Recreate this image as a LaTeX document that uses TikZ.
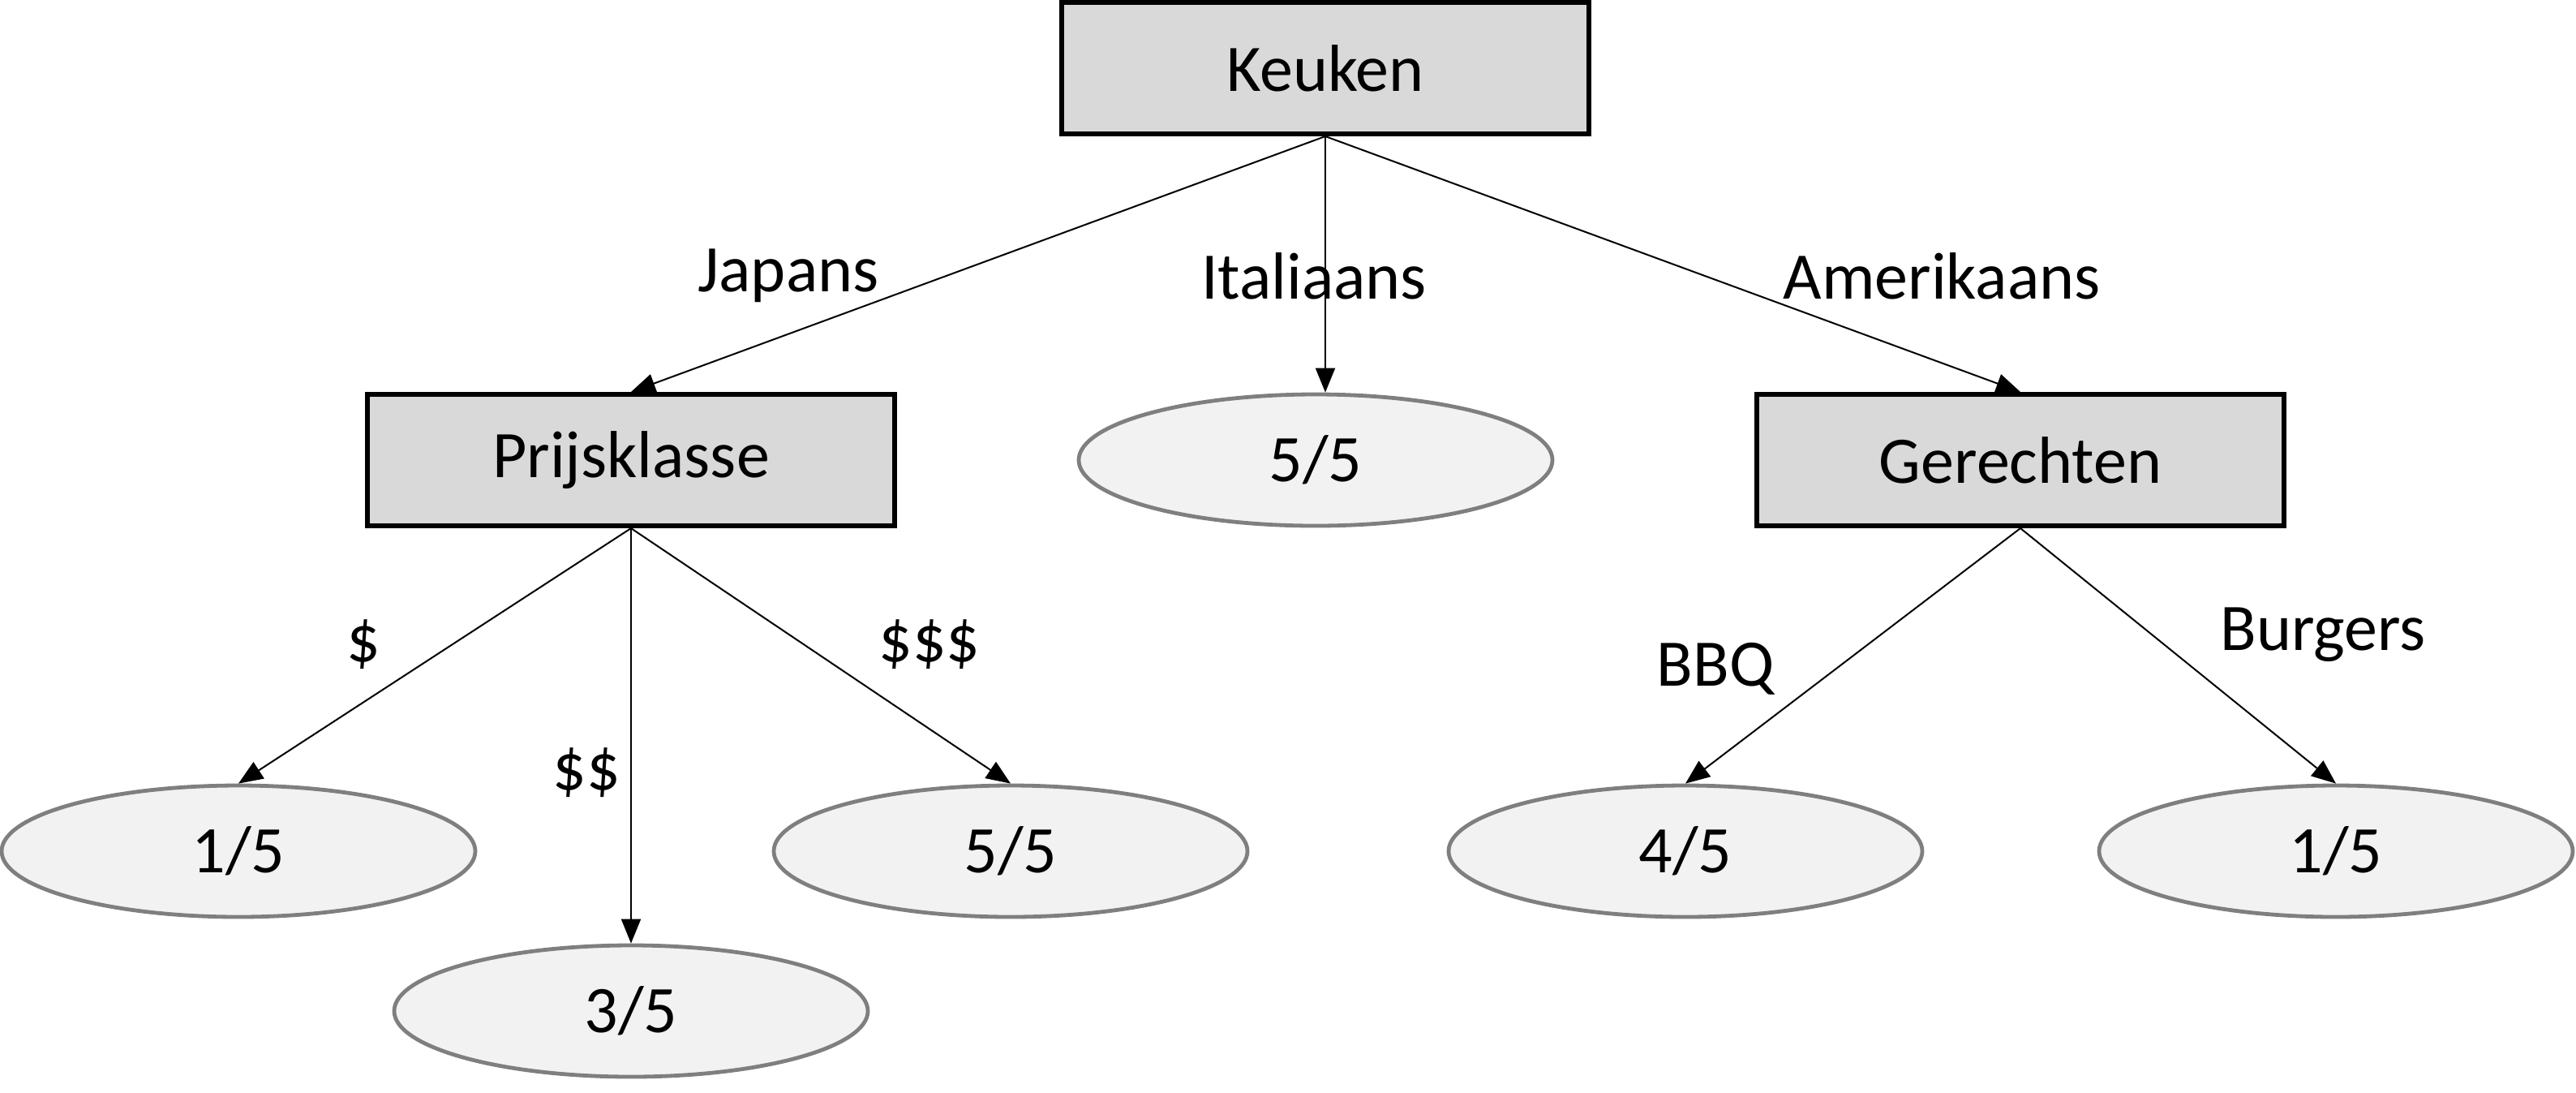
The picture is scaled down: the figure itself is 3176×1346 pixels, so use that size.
\documentclass[tikz,border=0pt]{standalone}
\usepackage{fontspec}
\setmainfont{Carlito}
\usetikzlibrary{shapes.geometric,arrows.meta}
\definecolor{boxfill}{HTML}{D9D9D9}
\definecolor{ellfill}{HTML}{F2F2F2}
\definecolor{ellline}{HTML}{7F7F7F}
\begin{document}
\begin{tikzpicture}[x=0.5pt,y=-0.5pt,
  every node/.style={font=\fontsize{41}{48}\selectfont},
  boxnode/.style={draw=black,line width=3pt,fill=boxfill,minimum width=325pt,minimum height=81pt,inner sep=0pt},
  leaf/.style={ellipse,draw=ellline,line width=2.4pt,fill=ellfill,minimum width=292pt,minimum height=81pt,inner sep=0pt},
  edge/.style={line width=1pt,-{Triangle[length=15pt,width=12pt]}},
  lbl/.style={inner sep=0pt}]
\useasboundingbox (0,0) rectangle (3176,1346);
\node[boxnode] (keuken) at (1634,84) {Keuken};
\node[boxnode] (prijs) at (778,567) {Prijsklasse};
\node[boxnode] (ger) at (2491,567) {Gerechten};
\node[leaf] (ita) at (1622,567) {5/5};
\node[leaf] (p1) at (294,1049) {1/5};
\node[leaf] (p3) at (1246,1049) {5/5};
\node[leaf] (p2) at (778,1246) {3/5};
\node[leaf] (g1) at (2078,1049) {4/5};
\node[leaf] (g2) at (2880,1049) {1/5};
\draw[edge] (keuken.south) -- (prijs.north);
\draw[edge] (keuken.south) -- (keuken.south |- ita.north);
\draw[edge] (keuken.south) -- (ger.north);
\draw[edge] (prijs.south) -- (p1.north);
\draw[edge] (prijs.south) -- (p2.north);
\draw[edge] (prijs.south) -- (p3.north);
\draw[edge] (ger.south) -- (g1.north);
\draw[edge] (ger.south) -- (g2.north);
\node[lbl] (lj) at (972,340) {Japans};
\node[lbl] (li) at (1620,340) {Italiaans};
\node[lbl] (la) at (2394,340) {Amerikaans};
\node[lbl] (l1) at (448,794) {\$};
\node[lbl] (l2) at (723,952) {\$\$};
\node[lbl] (l3) at (1146,794) {\$\$\$};
\node[lbl] (lb) at (2115,824) {BBQ};
\node[lbl] (lbu) at (2864,782) {Burgers};
\end{tikzpicture}
\end{document}
